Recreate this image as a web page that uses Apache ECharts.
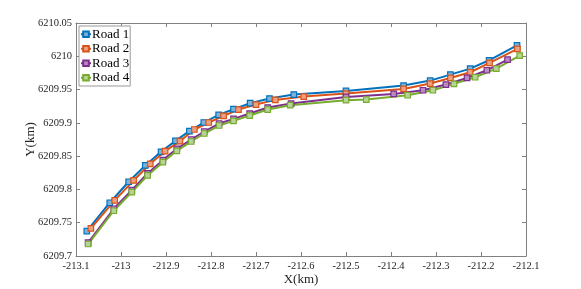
<!DOCTYPE html>
<html>
<head>
<meta charset="utf-8">
<script src="https://cdn.jsdelivr.net/npm/echarts@6/dist/echarts.min.js"></script>
<style>html,body{margin:0;padding:0;background:#fff}#c{width:581px;height:289px}</style>
</head>
<body>
<div id="c"></div>
<script>
const seriesNames = ['Road 1', 'Road 2', 'Road 3', 'Road 4'];
const road1X = [-213.076, -213.025, -212.983, -212.946, -212.911, -212.879, -212.848, -212.816, -212.783, -212.750, -212.713, -212.670, -212.616, -212.500, -212.372, -212.313, -212.268, -212.224, -212.182, -212.120];
const road1Y = [6209.7375, 6209.780, 6209.8115, 6209.836, 6209.8565, 6209.873, 6209.8875, 6209.9005, 6209.912, 6209.9205, 6209.9295, 6209.9365, 6209.9425, 6209.948, 6209.956, 6209.9635, 6209.9725, 6209.9815, 6209.994, 6210.0165];
const road2X = [-213.067, -213.014, -212.972, -212.935, -212.902, -212.869, -212.837, -212.805, -212.772, -212.739, -212.700, -212.657, -212.594, -212.500, -212.372, -212.313, -212.268, -212.224, -212.181, -212.119];
const road2Y = [6209.7415, 6209.7835, 6209.8135, 6209.8385, 6209.8575, 6209.8725, 6209.890, 6209.9005, 6209.9105, 6209.920, 6209.9275, 6209.9345, 6209.9395, 6209.944, 6209.951, 6209.959, 6209.9675, 6209.976, 6209.990, 6210.011];
const road3X = [-213.073, -213.016, -212.976, -212.941, -212.907, -212.876, -212.844, -212.815, -212.782, -212.750, -212.714, -212.674, -212.622, -212.500, -212.394, -212.329, -212.278, -212.231, -212.187, -212.141];
const road3Y = [6209.720, 6209.771, 6209.799, 6209.824, 6209.844, 6209.861, 6209.875, 6209.887, 6209.899, 6209.906, 6209.914, 6209.923, 6209.929, 6209.939, 6209.9435, 6209.949, 6209.9575, 6209.9675, 6209.979, 6209.995];
const road4X = [-213.073, -213.016, -212.976, -212.941, -212.907, -212.876, -212.844, -212.815, -212.782, -212.750, -212.714, -212.674, -212.624, -212.500, -212.455, -212.363, -212.307, -212.260, -212.213, -212.166, -212.114];
const road4Y = [6209.718, 6209.768, 6209.796, 6209.821, 6209.841, 6209.858, 6209.872, 6209.884, 6209.896, 6209.903, 6209.911, 6209.920, 6209.9265, 6209.934, 6209.935, 6209.9415, 6209.949, 6209.9585, 6209.9685, 6209.9815, 6210.001];
const xTickLabels = ['-213.1', '-213', '-212.9', '-212.8', '-212.7', '-212.6', '-212.5', '-212.4', '-212.3', '-212.2', '-212.1'];
const yTickLabels = ['6209.7', '6209.75', '6209.8', '6209.85', '6209.9', '6209.95', '6210', '6210.05'];

const colors = ['#0072BD', '#D95319', '#7E2F8E', '#77AC30'];
const fills = ['#7fb2d8', '#eba282', '#b88cc0', '#b6d494'];
const xs = [road1X, road2X, road3X, road4X];
const ys = [road1Y, road2Y, road3Y, road4Y];

function fmt(v, labels) {
  const s = parseFloat(v.toFixed(2)).toString();
  return labels.indexOf(s) >= 0 ? s : '';
}
const font = 'Liberation Serif, Times New Roman, serif';
const axisCol = '#808080';
const txtCol = '#262626';

const xMin = -213.1, xMax = -212.1, yMin = 6209.7, yMax = 6210.05;
function xAxisCfg(pos, showLabel, name) {
  return {
    type: 'value', position: pos, min: xMin, max: xMax, interval: 0.1,
    name: name, nameLocation: 'middle', nameGap: 17, nameMoveOverlap: false,
    nameTextStyle: { fontFamily: font, fontSize: 13, color: txtCol },
    axisLine: { show: true, onZero: false, lineStyle: { color: axisCol, width: 1 } },
    axisTick: { show: true, inside: true, length: 4, lineStyle: { color: axisCol } },
    axisLabel: { show: showLabel, fontFamily: font, fontSize: 10.5, color: txtCol, margin: 5,
      formatter: v => fmt(v, xTickLabels) },
    splitLine: { show: false }
  };
}
function yAxisCfg(pos, showLabel, name) {
  return {
    type: 'value', position: pos, min: yMin, max: yMax, interval: 0.05,
    name: name, nameLocation: 'middle', nameGap: 39, nameRotate: 90, nameMoveOverlap: false,
    nameTextStyle: { fontFamily: font, fontSize: 13, color: txtCol },
    axisLine: { show: true, onZero: false, lineStyle: { color: axisCol, width: 1 } },
    axisTick: { show: true, inside: true, length: 4, lineStyle: { color: axisCol } },
    axisLabel: { show: showLabel, fontFamily: font, fontSize: 10.5, color: txtCol, margin: 4,
      formatter: v => fmt(v, yTickLabels) },
    splitLine: { show: false }
  };
}

const series = seriesNames.map((n, i) => ({
  name: n, type: 'line', xAxisIndex: 0, yAxisIndex: 0,
  data: xs[i].map((x, k) => [x, ys[i][k]]),
  symbol: 'rect', symbolSize: 5.5, showAllSymbol: true,
  lineStyle: { color: colors[i], width: 2 },
  itemStyle: { color: fills[i], borderColor: colors[i], borderWidth: 1.2 },
  emphasis: { disabled: true },
  animation: false
}));

const chart = echarts.init(document.getElementById('c'), null, { renderer: 'canvas' });
chart.setOption({
  animation: false,
  backgroundColor: '#fff',
  grid: { left: 76, right: 55, top: 23, bottom: 33, containLabel: false, outerBoundsMode: 'none' },
  xAxis: [xAxisCfg('bottom', true, 'X(km)'), xAxisCfg('top', false, '')],
  yAxis: [yAxisCfg('left', true, 'Y(km)'), yAxisCfg('right', false, '')],
  legend: {
    data: seriesNames, orient: 'vertical', left: 79, top: 26,
    backgroundColor: '#fff', borderColor: '#999', borderWidth: 1,
    padding: [1, 1, 1, 1], itemGap: 0, itemWidth: 10, itemHeight: 7,
    textStyle: { fontFamily: font, fontSize: 13, lineHeight: 14.5, color: '#000', padding: [0, 0, 0, -4] }
  },
  series: series
});
</script>
</body>
</html>
